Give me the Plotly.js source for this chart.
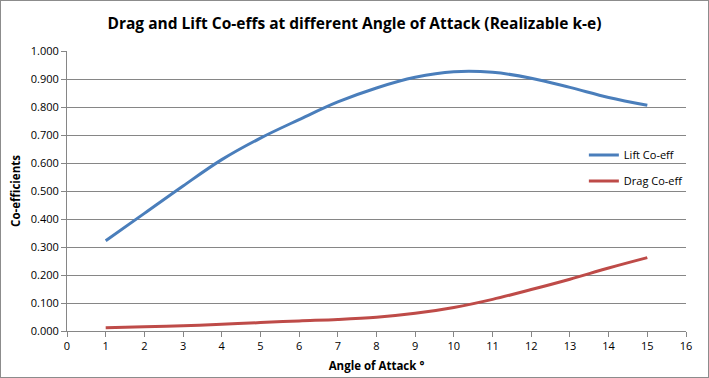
<!DOCTYPE html>
<html>
<head>
<meta charset="utf-8">
<script src="https://cdn.plot.ly/plotly-3.0.1.min.js"></script>
<style>
  html, body { margin: 0; padding: 0; background: #fff; }
  #chart { width: 707px; height: 376px; border: 1px solid #8c8c8c; }
</style>
</head>
<body>
<div id="chart"></div>
<script>
const angles = [1, 2, 3, 4, 5, 6, 7, 8, 9, 10, 11, 12, 13, 14, 15];
const liftCoeff = [0.322, 0.420, 0.518, 0.612, 0.689, 0.755, 0.818, 0.868, 0.906, 0.926, 0.924, 0.903, 0.870, 0.834, 0.806];
const dragCoeff = [0.012, 0.015, 0.019, 0.024, 0.030, 0.036, 0.041, 0.049, 0.063, 0.084, 0.113, 0.148, 0.185, 0.225, 0.262];
const seriesNames = ['Lift Co-eff', 'Drag Co-eff'];

const FONT = 'Open Sans, Arial, sans-serif';

const traces = [
  { x: angles, y: liftCoeff, name: seriesNames[0], type: 'scatter', mode: 'lines',
    line: { color: '#4A7EBB', width: 3, shape: 'spline', smoothing: 1 }, legendgroup: 'a' },
  { x: angles, y: dragCoeff, name: seriesNames[1], type: 'scatter', mode: 'lines',
    line: { color: '#BE4B48', width: 3, shape: 'spline', smoothing: 1 }, legendgroup: 'b' }
];

const layout = {
  width: 707, height: 376,
  margin: { l: 66, r: 22, t: 50, b: 46 },
  paper_bgcolor: '#ffffff', plot_bgcolor: '#ffffff',
  font: { family: FONT, size: 11, color: '#000' },
  title: { text: '<b>Drag and Lift Co-effs at different Angle of Attack (Realizable k-e)</b>',
           font: { family: FONT, size: 15.5, color: '#000' }, x: 0.5, xanchor: 'center', y: 0.94, yanchor: 'middle' },
  xaxis: {
    range: [0, 16], dtick: 1, tick0: 0, showgrid: false, zeroline: false,
    showline: true, linecolor: '#868686', linewidth: 1,
    ticks: 'outside', ticklen: 5, tickcolor: '#868686',
    tickfont: { family: FONT, size: 11, color: '#000' },
    title: { text: '<b>Angle of Attack °</b>', font: { family: FONT, size: 11.5, color: '#000' }, standoff: 9 }
  },
  yaxis: {
    range: [0, 1], dtick: 0.1, tick0: 0, tickformat: '.3f',
    showgrid: true, gridcolor: '#868686', gridwidth: 1, zeroline: false,
    showline: true, linecolor: '#868686', linewidth: 1,
    ticks: 'outside', ticklen: 5, tickcolor: '#868686',
    tickfont: { family: FONT, size: 11, color: '#000' },
    title: { text: '<b>Co-efficients</b>', font: { family: FONT, size: 11.5, color: '#000' }, standoff: 7 }
  },
  showlegend: true,
  legend: {
    x: 0.835, y: 0.68, xanchor: 'left', yanchor: 'top',
    bgcolor: 'rgba(0,0,0,0)', borderwidth: 0,
    font: { family: FONT, size: 11, color: '#000' },
    traceorder: 'grouped', tracegroupgap: 7, itemwidth: 30
  }
};

Plotly.newPlot('chart', traces, layout, { displayModeBar: false, staticPlot: true });
</script>
</body>
</html>
